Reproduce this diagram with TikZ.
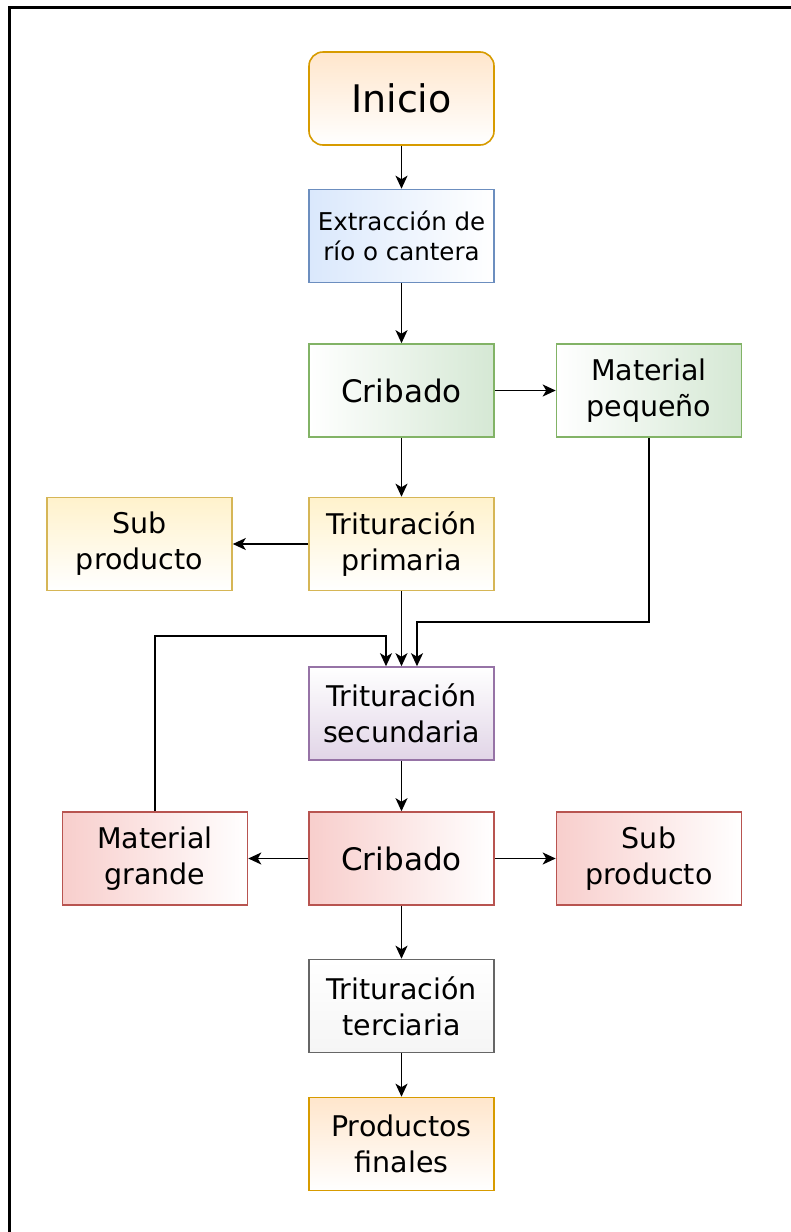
\documentclass[tikz,border=0pt]{standalone}
\usepackage{fontspec}
\setmainfont{DejaVu Sans}
\usetikzlibrary{arrows.meta}
\definecolor{orFill}{HTML}{FFE6CC}\definecolor{orLine}{HTML}{D79B00}
\definecolor{blFill}{HTML}{DAE8FC}\definecolor{blLine}{HTML}{6C8EBF}
\definecolor{grFill}{HTML}{D5E8D4}\definecolor{grLine}{HTML}{82B366}
\definecolor{yeFill}{HTML}{FFF2CC}\definecolor{yeLine}{HTML}{D6B656}
\definecolor{puFill}{HTML}{E1D5E7}\definecolor{puLine}{HTML}{9673A6}
\definecolor{reFill}{HTML}{F8CECC}\definecolor{reLine}{HTML}{B85450}
\definecolor{gyFill}{HTML}{F5F5F5}\definecolor{gyLine}{HTML}{666666}
\begin{document}
\begin{tikzpicture}[x=1pt,y=-1pt,
  box/.style={draw, line width=1.6pt, minimum width=185pt, minimum height=93pt,
    inner sep=0pt, align=center, font=\fontsize{28.5}{36}\selectfont},
  bigtext/.style={font=\fontsize{31}{36}\selectfont},
  orangebox/.style={box, draw=orLine, top color=orFill, bottom color=white},
  bluebox/.style={box, draw=blLine, left color=blFill, right color=white},
  greenbox/.style={box, draw=grLine, left color=white, right color=grFill},
  yellowbox/.style={box, draw=yeLine, top color=yeFill, bottom color=white},
  purplebox/.style={box, draw=puLine, top color=white, bottom color=puFill},
  redbox/.style={box, draw=reLine, left color=reFill, right color=white},
  greybox/.style={box, draw=gyLine, top color=white, bottom color=gyFill},
  arr/.style={draw, line width=1.6pt, -{Stealth[length=13pt,width=12pt,inset=3.5pt]}}]
\useasboundingbox (0,0) rectangle (791,1232);
% page frame (left and top edges)
\draw[line width=3pt] (9,1232) -- (9,7) -- (791,7);

% nodes
\node[orangebox, rounded corners=14pt, font=\fontsize{38}{40}\selectfont] (ini) at (401.5,98.5) {Inicio};
\node[bluebox, font=\fontsize{24.5}{30}\selectfont] (ext) at (401.5,236) {Extracción de\\río o cantera};
\node[greenbox, bigtext] (crib1) at (401.5,390.5) {Cribado};
\node[greenbox] (pq) at (649,390.5) {Material\\pequeño};
\node[yellowbox] (tp) at (401.5,544) {Trituración\\primaria};
\node[yellowbox] (sp1) at (139.5,544) {Sub\\producto};
\node[purplebox] (ts) at (401.5,713.5) {Trituración\\secundaria};
\node[redbox, bigtext] (crib2) at (401.5,858.5) {Cribado};
\node[redbox] (mg) at (155,858.5) {Material\\grande};
\node[redbox] (sp2) at (649,858.5) {Sub\\producto};
\node[greybox] (tt) at (401.5,1006) {Trituración\\terciaria};
\node[orangebox] (pf) at (401.5,1144) {Productos\\finales};

% turning points of the return lines
\coordinate (pqturn) at (649,622);
\coordinate (mgturn) at (155,636);

% connectors
\draw[arr] (ini) -- (ext);
\draw[arr] (ext) -- (crib1);
\draw[arr] (crib1) -- (pq);
\draw[arr] (crib1) -- (tp);
\draw[arr] (tp) -- (sp1);
\draw[arr] (tp) -- (ts);
\draw[arr] (pq.south) -- (pqturn) -- ([xshift=15.5pt]ts.north |- pqturn) -- ([xshift=15.5pt]ts.north);
\draw[arr] (mg.north) -- (mgturn) -- ([xshift=-15.5pt]ts.north |- mgturn) -- ([xshift=-15.5pt]ts.north);
\draw[arr] (ts) -- (crib2);
\draw[arr] (crib2) -- (mg);
\draw[arr] (crib2) -- (sp2);
\draw[arr] (crib2) -- (tt);
\draw[arr] (tt) -- (pf);
\end{tikzpicture}
\end{document}
